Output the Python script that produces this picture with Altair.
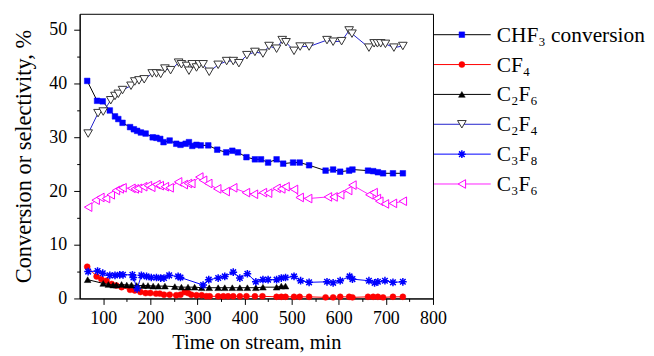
import altair as alt
import pandas as pd

# ---------------- data ----------------
chf3_t = [66, 87, 99, 114, 125, 132, 141, 157, 165, 172, 180, 190, 205, 213, 221, 228, 241, 255, 264, 275,
          282, 289, 298, 307, 323, 342, 361, 374, 386, 404, 422, 435, 450, 468, 482, 503, 517, 537, 572, 588,
          603, 622, 629, 662, 673, 683, 694, 715, 736]
chf3_v = [40.5, 36.8, 36.7, 35.0, 33.9, 33.4, 32.7, 31.9, 31.5, 31.2, 30.9, 30.7, 30.0, 29.9, 29.7, 29.1, 29.4,
          28.8, 28.6, 28.8, 29.1, 28.4, 28.6, 28.5, 28.5, 27.7, 27.2, 27.5, 27.2, 26.3, 25.9, 25.9, 25.3, 25.9,
          25.1, 25.3, 25.3, 24.8, 23.8, 24.0, 23.6, 23.8, 24.0, 23.8, 23.7, 23.5, 23.3, 23.3, 23.3]

cf4_t = [66, 86, 96, 107, 118, 128, 139, 157, 167, 179, 190, 200, 212, 220, 229, 241, 255, 264, 273, 280,
         287, 298, 309, 319, 326, 344, 355, 365, 376, 390, 404, 422, 438, 468, 478, 487, 505, 517, 537, 572,
         588, 603, 622, 629, 662, 673, 683, 694, 715, 736]
cf4_v = [5.9, 4.1, 3.6, 3.3, 2.7, 2.4, 2.1, 1.6, 1.5, 1.2, 1.0, 1.0, 0.9, 0.9, 0.7, 0.7, 0.6, 0.7, 1.2, 1.0,
         0.7, 0.6, 0.6, 0.4, 0.4, 0.4, 0.4, 0.4, 0.4, 0.4, 0.4, 0.4, 0.4, 0.3, 0.3, 0.3, 0.3, 0.3, 0.3, 0.2,
         0.2, 0.3, 0.3, 0.2, 0.3, 0.3, 0.3, 0.2, 0.3, 0.3]

c2f6_t = [67, 100, 111, 121, 128, 139, 150, 160, 171, 185, 195, 206, 217, 231, 252, 266, 280, 294, 309, 325,
          344, 358, 374, 390, 406, 424, 439, 468, 478, 487]
c2f6_v = [3.5, 2.8, 2.6, 2.5, 2.5, 2.6, 2.5, 2.5, 2.4, 2.4, 2.4, 2.3, 2.3, 2.3, 2.2, 2.1, 2.1, 2.1, 2.0, 2.0,
          2.0, 2.0, 2.0, 2.0, 2.0, 2.0, 2.1, 2.1, 2.3, 2.3]

c2f4_t = [68, 89, 100, 116, 125, 132, 141, 159, 167, 176, 187, 204, 213, 222, 231, 243, 260, 266, 277, 282,
          289, 298, 304, 312, 325, 344, 362, 376, 388, 405, 422, 439, 452, 468, 480, 488, 505, 518, 537, 575,
          588, 606, 622, 628, 664, 675, 682, 689, 699, 717, 736]
c2f4_v = [30.7, 34.5, 34.8, 36.9, 37.7, 38.1, 38.8, 39.6, 40.4, 40.6, 40.8, 41.9, 41.9, 41.8, 42.8, 42.5, 43.9,
          43.6, 43.3, 42.4, 43.6, 43.0, 43.6, 43.6, 42.2, 43.5, 44.2, 44.2, 43.8, 45.3, 45.9, 45.6, 47.0, 46.5,
          48.1, 47.7, 46.1, 46.9, 46.9, 48.1, 47.8, 47.9, 49.9, 49.3, 46.7, 47.5, 47.5, 47.5, 47.4, 46.7, 47.0]

c3f8_t = [68, 88, 99, 114, 125, 135, 142, 162, 164, 172, 181, 192, 202, 213, 222, 229, 240, 259, 264, 312,
          324, 344, 358, 376, 390, 406, 424, 439, 450, 468, 478, 487, 505, 519, 537, 575, 588, 603, 623, 629,
          664, 676, 683, 698, 715, 736]
c3f8_v = [5.0, 5.1, 4.7, 4.3, 4.3, 4.4, 4.4, 4.4, 3.9, 1.8, 4.3, 4.1, 3.9, 3.9, 3.8, 3.8, 4.3, 4.1, 3.9, 2.5,
          3.5, 3.8, 4.1, 4.9, 3.8, 4.6, 3.1, 3.5, 3.5, 3.5, 3.8, 3.9, 4.1, 3.3, 3.0, 3.1, 2.9, 3.3, 4.1, 3.6,
          3.3, 2.9, 3.1, 3.3, 3.0, 3.1]

c3f6_t = [68, 84, 94, 106, 116, 127, 135, 141, 160, 167, 174, 185, 195, 202, 213, 220, 231, 241, 259, 271,
          280, 287, 304, 312, 323, 342, 360, 376, 403, 420, 439, 450, 468, 478, 487, 505, 517, 535, 577, 589,
          603, 620, 629, 665, 674, 681, 686, 698, 715, 736]
c3f6_v = [17.0, 18.3, 18.8, 18.6, 19.3, 20.1, 20.4, 20.6, 20.5, 20.4, 20.5, 20.8, 21.0, 20.7, 21.2, 21.0, 20.8,
          20.6, 21.7, 21.2, 21.4, 21.4, 22.6, 22.0, 21.4, 20.4, 19.9, 20.6, 19.7, 19.4, 19.7, 19.6, 20.5, 20.4,
          20.8, 20.3, 18.8, 18.6, 18.9, 18.9, 19.3, 20.1, 21.1, 19.3, 19.7, 18.6, 18.1, 17.6, 17.7, 18.1]

series_names = ["CHF₃ conversion", "CF₄", "C₂F₆", "C₂F₄", "C₃F₈", "C₃F₆"]
x_major = [100, 200, 300, 400, 500, 600, 700, 800]
x_minor = [150, 250, 350, 450, 550, 650, 750]
y_major = [0, 10, 20, 30, 40, 50]
y_minor = [5, 15, 25, 35, 45]

# ---------------- styles ----------------
ASTER = "M-1,0L1,0M0,-1L0,1M-0.72,-0.72L0.72,0.72M-0.72,0.72L0.72,-0.72"
styles = [
    dict(line="#000000", shape="square", fill="#0000FF", stroke="#0000FF", size=32, sw=0.5, filled=True),
    dict(line="#FF0000", shape="circle", fill="#FF0000", stroke="#FF0000", size=36, sw=0.5, filled=True),
    dict(line="#000000", shape="triangle-up", fill="#000000", stroke="#000000", size=45, sw=0.5, filled=True),
    dict(line="#2222CC", shape="triangle-down", fill="#FFFFFF", stroke="#333333", size=75, sw=1.0, filled=True),
    dict(line="#0000FF", shape=ASTER, fill="none", stroke="#0000FF", size=60, sw=1.5, filled=False),
    dict(line="#FF22FF", shape="triangle-left", fill="#FFFFFF", stroke="#FF00FF", size=75, sw=1.0, filled=True),
]
series_data = [(chf3_t, chf3_v), (cf4_t, cf4_v), (c2f6_t, c2f6_v),
               (c2f4_t, c2f4_v), (c3f8_t, c3f8_v), (c3f6_t, c3f6_v)]

FONT = "Liberation Serif"
xs = alt.Scale(domain=[50, 800], nice=False, zero=False)
ys = alt.Scale(domain=[0, 53], nice=False, zero=False)

W, H = 355, 286


def point_kw(st):
    kw = dict(shape=st["shape"], size=st["size"], stroke=st["stroke"],
              strokeWidth=st["sw"], opacity=1, filled=st["filled"])
    if st["filled"]:
        kw["fill"] = st["fill"]
    return kw


layers = []
base_df = pd.DataFrame({"t": chf3_t, "v": chf3_v})
major = alt.Chart(base_df).mark_point(opacity=0).encode(
    x=alt.X("t:Q", scale=xs, axis=alt.Axis(
        values=x_major, title="Time on stream, min", orient="bottom", grid=False,
        tickSize=6, labelPadding=5, titlePadding=5, labelFontSize=18, titleFontSize=20.5,
        labelFont=FONT, titleFont=FONT, titleFontWeight="normal", labelColor="black",
        titleColor="black", domainColor="black", tickColor="black", labelFlush=False)),
    y=alt.Y("v:Q", scale=ys, axis=alt.Axis(
        values=y_major, title="Conversion or selectivity, %", orient="left", grid=False,
        tickSize=6, labelPadding=7, titlePadding=13, labelFontSize=18, titleFontSize=22.5,
        labelFont=FONT, titleFont=FONT, titleFontWeight="normal", labelColor="black",
        titleColor="black", domainColor="black", tickColor="black", labelFlush=False)),
)
minor = alt.Chart(base_df).mark_point(opacity=0).encode(
    x=alt.X("t:Q", scale=xs, axis=alt.Axis(
        values=x_minor, labels=False, title=None, orient="bottom", grid=False, domain=False,
        tickSize=3, tickColor="black")),
    y=alt.Y("v:Q", scale=ys, axis=alt.Axis(
        values=y_minor, labels=False, title=None, orient="left", grid=False, domain=False,
        tickSize=3, tickColor="black")),
)
layers += [major, minor]

for (tt, vv), st, name in zip(series_data, styles, series_names):
    df = pd.DataFrame({"t": tt, "v": vv, "series": name})
    enc = dict(x=alt.X("t:Q", scale=xs, axis=None), y=alt.Y("v:Q", scale=ys, axis=None))
    layers.append(alt.Chart(df).mark_line(color=st["line"], strokeWidth=1).encode(**enc))
    layers.append(alt.Chart(df).mark_point(**point_kw(st)).encode(**enc))

main = alt.layer(*layers).resolve_axis(x="independent", y="independent").properties(
    width=W, height=H, view=alt.ViewBackground(stroke="black", strokeWidth=1))

# ---------------- legend panel ----------------
leg_df = pd.DataFrame({"name": series_names, "idx": list(range(len(series_names)))})
ly = alt.Scale(domain=[-0.7, 8.833], reverse=True, nice=False, zero=False)
leg_layers = []
for i, st in enumerate(styles):
    sub = alt.Chart(leg_df).transform_filter(alt.datum.idx == i)
    leg_layers.append(sub.mark_rule(color=st["line"], strokeWidth=1).encode(
        x=alt.value(1), x2=alt.value(58), y=alt.Y("idx:Q", scale=ly, axis=None)))
    leg_layers.append(sub.mark_point(**point_kw(st)).encode(
        x=alt.value(29), y=alt.Y("idx:Q", scale=ly, axis=None)))
leg_layers.append(alt.Chart(leg_df).mark_text(
    align="left", baseline="middle", font=FONT, fontSize=21.5, color="black", dy=1).encode(
    x=alt.value(64), y=alt.Y("idx:Q", scale=ly, axis=None), text="name:N"))
legend = alt.layer(*leg_layers).properties(
    width=60, height=H, view=alt.ViewBackground(stroke=None))

chart = alt.hconcat(main, legend, spacing=0, bounds="flush").properties(
    padding={"left": 4, "top": 4, "right": 0, "bottom": 0}
).configure(font=FONT, background="white")

chart.save("out.html", embed_options={"renderer": "svg", "actions": False})
